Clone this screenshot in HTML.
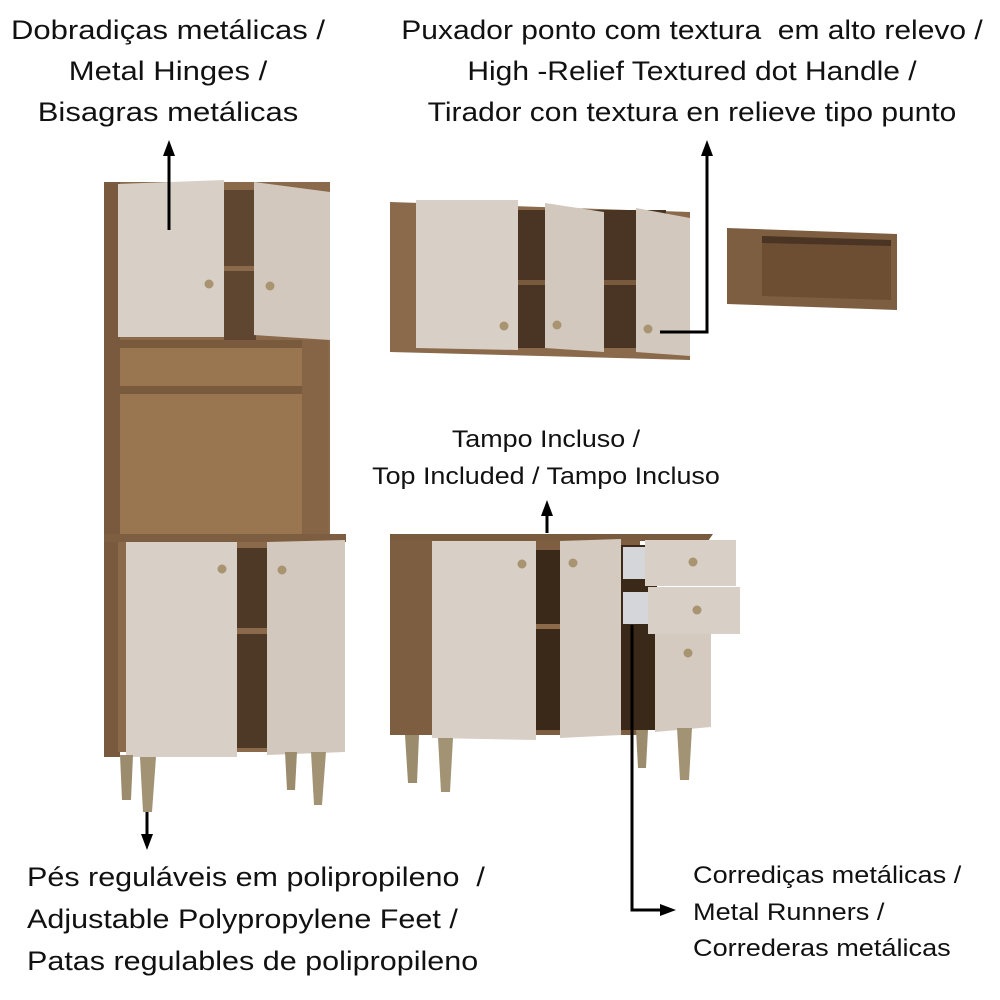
<!DOCTYPE html>
<html><head><meta charset="utf-8"><style>
body{margin:0;background:#fff;width:1000px;height:1000px;overflow:hidden;position:relative;font-family:"Liberation Sans",sans-serif;color:#111}
.t{position:absolute;white-space:nowrap}
svg{position:absolute;left:0;top:0}
</style></head><body>
<svg width="1000" height="1000" viewBox="0 0 1000 1000">
<defs><marker id="a" markerUnits="userSpaceOnUse" markerWidth="16" markerHeight="16" refX="8" refY="8" orient="auto"><path d="M0,2 L16,8 L0,14 Z" fill="#000"/></marker></defs>
<!-- tall cabinet -->
<rect x="104" y="182" width="226" height="358" fill="#8a6a4a"/>
<rect x="224" y="190" width="32" height="150" fill="#5e4630"/>
<rect x="224" y="266" width="32" height="5" fill="#8a6a4a"/>
<rect x="120" y="340" width="208" height="195" fill="#9a7650"/>
<rect x="120" y="340" width="208" height="8" fill="#7a5a3c"/>
<rect x="120" y="386" width="208" height="8" fill="#7a5a3c"/>
<rect x="302" y="340" width="26" height="195" fill="#866446"/>
<rect x="104" y="182" width="16" height="575" fill="#7a5a3e"/>
<polygon points="118,184 224,180 224,337 118,337" fill="#d8cfc6"/>
<polygon points="254,182 330,192 330,340 254,335" fill="#d2c8be"/>
<rect x="104" y="534" width="242" height="8" fill="#7e5e40"/>
<rect x="118" y="542" width="220" height="210" fill="#8a6a4a"/>
<rect x="237" y="548" width="30" height="200" fill="#4e3826"/>
<rect x="237" y="628" width="30" height="6" fill="#8a6a4a"/>
<polygon points="126,542 237,542 237,757 126,757" fill="#d8cfc6"/>
<polygon points="267,542 345,540 345,752 267,755" fill="#d2c8be"/>
<polygon points="120,755 133,755 131,800 122,800" fill="#9c8c6e"/>
<polygon points="140,757 156,757 152,812 143,812" fill="#a39375"/>
<polygon points="285,752 297,752 295,790 287,790" fill="#9c8c6e"/>
<polygon points="311,752 326,752 322,805 314,805" fill="#a39375"/>
<circle cx="209" cy="284" r="4.5" fill="#a89470"/><circle cx="270" cy="286" r="4.5" fill="#a89470"/>
<circle cx="222" cy="569" r="4.5" fill="#a89470"/><circle cx="282" cy="570" r="4.5" fill="#a89470"/>
<!-- wall cabinet -->
<polygon points="390,202 690,212 690,360 390,352" fill="#8a6a4a"/>
<rect x="416" y="210" width="250" height="138" fill="#4a3424"/>
<rect x="416" y="280" width="250" height="5" fill="#7a5a3c"/>
<polygon points="416,200 518,200 518,350 416,348" fill="#d8cfc6"/>
<polygon points="545,203 604,212 604,352 545,348" fill="#d2c8be"/>
<polygon points="636,208 690,218 690,356 636,352" fill="#d2c8be"/>
<circle cx="504" cy="326" r="4.5" fill="#a89470"/><circle cx="557" cy="325" r="4.5" fill="#a89470"/><circle cx="648" cy="329" r="4.5" fill="#a89470"/>
<!-- shelf -->
<polygon points="727,228 897,234 897,310 727,304" fill="#7e5e40"/>
<polygon points="762,236 891,240 891,300 762,296" fill="#6e4e32"/>
<polygon points="762,236 891,240 891,246 762,243" fill="#4a3424"/>
<!-- base cabinet -->
<polygon points="390,534 713,534 708,541 390,541" fill="#7a5a3c"/>
<rect x="390" y="540" width="250" height="195" fill="#7e5e40"/>
<rect x="536" y="550" width="26" height="180" fill="#3a2818"/>
<rect x="536" y="624" width="26" height="5" fill="#8a6a4a"/>
<rect x="621" y="545" width="36" height="185" fill="#3a2818"/>
<rect x="623" y="547" width="26" height="32" fill="#d4d6da"/>
<rect x="623" y="592" width="26" height="32" fill="#d4d6da"/>
<polygon points="432,541 536,541 536,740 432,738" fill="#d8cfc6"/>
<polygon points="560,541 621,539 621,735 560,738" fill="#d4cac0"/>
<rect x="645" y="540" width="91" height="46" fill="#d8cfc6"/>
<rect x="648" y="587" width="92" height="47" fill="#d8cfc6"/>
<polygon points="655,634 711,634 711,727 655,732" fill="#d4cac0"/>
<polygon points="405,735 419,735 417,783 408,783" fill="#9c8c6e"/>
<polygon points="438,738 453,738 450,792 441,792" fill="#a39375"/>
<polygon points="636,730 648,730 646,768 638,768" fill="#9c8c6e"/>
<polygon points="677,728 692,728 689,780 680,780" fill="#a39375"/>
<circle cx="522" cy="564" r="4.5" fill="#a89470"/><circle cx="573" cy="563" r="4.5" fill="#a89470"/>
<circle cx="693" cy="562" r="4.5" fill="#a89470"/><circle cx="697" cy="610" r="4.5" fill="#a89470"/><circle cx="688" cy="653" r="4.5" fill="#a89470"/>
<!-- arrows -->
<g stroke="#000" stroke-width="3" fill="none">
<line x1="169" y1="230" x2="169" y2="148" marker-end="url(#a)"/>
<line x1="147" y1="812" x2="147" y2="842" marker-end="url(#a)"/>
<polyline points="660,332 707,332 707,148" marker-end="url(#a)"/>
<line x1="547" y1="533" x2="547" y2="508" marker-end="url(#a)"/>
<polyline points="632,625 632,910 668,910" marker-end="url(#a)"/>
</g>
</svg>
<div class="t" style="left:0;width:336px;text-align:center;top:10px;font-size:27px;line-height:41px;transform:scaleX(1.15);transform-origin:168px 0">Dobradiças metálicas /<br>Metal Hinges /<br>Bisagras metálicas</div>
<div class="t" style="left:392px;width:600px;text-align:center;top:10px;font-size:27px;line-height:41px;transform:scaleX(1.11);transform-origin:300px 0">Puxador ponto com textura&nbsp; em alto relevo /<br>High -Relief Textured dot Handle /<br>Tirador con textura en relieve tipo punto</div>
<div class="t" style="left:346px;width:400px;text-align:center;top:421px;font-size:24px;line-height:37px;transform:scaleX(1.12);transform-origin:200px 0">Tampo Incluso /<br>Top Included / Tampo Incluso</div>
<div class="t" style="left:27px;top:856px;font-size:27px;line-height:42px;transform:scaleX(1.13);transform-origin:0 0">Pés reguláveis em polipropileno&nbsp; /<br>Adjustable Polypropylene Feet /<br>Patas regulables de polipropileno</div>
<div class="t" style="left:693px;top:858px;font-size:24px;line-height:36.5px;transform:scaleX(1.13);transform-origin:0 0">Corrediças metálicas /<br>Metal Runners /<br>Correderas metálicas</div>
</body></html>
